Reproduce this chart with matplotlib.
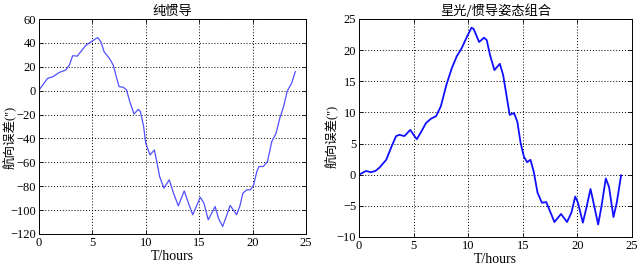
import matplotlib
matplotlib.use("Agg")
import matplotlib.pyplot as plt

# Left panel: pure INS heading error (")
t_ins = [0, 0.8, 1.3, 1.9, 2.5, 2.85, 3.15, 3.6, 3.9, 4.4, 4.9, 5.35, 5.5, 5.8, 6.1, 6.6,
         6.95, 7.2, 7.5, 7.9, 8.2, 8.5, 8.9, 9.3, 9.5, 9.8, 10.0, 10.4, 10.8, 11.0, 11.3,
         11.7, 12.2, 12.6, 13.05, 13.6, 14.0, 14.4, 15.1, 15.45, 15.85, 16.5, 16.8, 17.2,
         17.6, 17.9, 18.3, 18.5, 18.8, 19.1, 19.45, 19.8, 20.1, 20.4, 20.6, 21.0, 21.4,
         21.8, 22.2, 22.55, 22.9, 23.25, 23.65, 24.0]
v_ins = [0.5, 10.3, 11.7, 15.3, 17.3, 21.5, 29.3, 29.0, 32.6, 38.1, 41.0, 43.8, 44.4, 41.0,
         32.6, 27.0, 21.5, 13.1, 3.4, 2.9, 0.6, -9.1, -19.5, -15.6, -17.5, -30.0, -44.0,
         -53.8, -49.6, -57.9, -71.9, -81.6, -74.6, -85.8, -96.4, -83.9, -94.2, -103.9,
         -89.2, -94.2, -108.1, -97.0, -106.7, -113.7, -103.9, -96.1, -101.1, -103.9, -97.0,
         -85.8, -83.0, -83.0, -78.9, -67.7, -63.5, -63.5, -59.3, -42.6, -35.7, -23.1, -13.4,
         -0.3, 6.1, 16.0]

# Right panel: star sensor / INS attitude integration heading error (")
t_cns = [0, 0.64, 1.1, 1.5, 1.86, 2.5, 2.93, 3.4, 3.7, 4.16, 4.7, 5.0, 5.3, 5.7, 6.14, 6.6,
         7.06, 7.5, 8.0, 8.5, 8.95, 9.4, 9.9, 10.3, 10.5, 11.0, 11.45, 11.7, 12.0, 12.4,
         12.9, 13.2, 13.5, 13.8, 14.2, 14.5, 14.8, 15.1, 15.4, 15.7, 16.0, 16.35, 16.75,
         17.15, 17.45, 17.9, 18.5, 19.05, 19.45, 19.8, 20.05, 20.5, 20.85, 21.2, 21.55,
         21.9, 22.2, 22.6, 22.9, 23.3, 23.6, 24.0]
v_cns = [0.0, 0.6, 0.4, 0.6, 1.1, 2.4, 4.3, 6.2, 6.4, 6.2, 7.2, 6.4, 5.7, 6.9, 8.3, 9.0,
         9.4, 11.0, 14.4, 17.1, 19.0, 20.3, 22.2, 23.6, 23.4, 21.3, 22.0, 21.6, 19.2, 16.8,
         17.8, 16.0, 12.8, 9.6, 9.9, 8.5, 5.1, 2.9, 2.0, 2.4, 0.5, -2.9, -4.5, -4.4, -5.7,
         -7.6, -6.3, -7.6, -6.1, -3.5, -4.5, -7.7, -5.1, -2.3, -5.1, -8.0, -5.1, -0.6,
         -2.0, -6.8, -4.5, -0.1]

xticks = [0, 5, 10, 15, 20, 25]
yticks_left = [-120, -100, -80, -60, -40, -20, 0, 20, 40, 60]
yticks_right = [-10, -5, 0, 5, 10, 15, 20, 25]

title_left = "纯惯导"
title_right = "星光/惯导姿态组合"
ylabel = '航向误差(")'
xlabel = "T/hours"

serif = ["Liberation Serif", "Noto Sans CJK SC"]
cjk = ["Noto Sans CJK SC", "Liberation Serif"]

fig = plt.figure(figsize=(6.41, 2.67), dpi=100)
axL = fig.add_axes([0.0608, 0.1236, 0.4165, 0.805])
axR = fig.add_axes([0.560, 0.1124, 0.426, 0.8165])

def style(ax, yticks, ylim):
    ax.set_xlim(0, 25)
    ax.set_ylim(*ylim)
    ax.set_xticks(xticks)
    ax.set_yticks(yticks)
    ax.tick_params(direction="in", top=True, right=True, length=3, width=0.6, labelsize=9, pad=2)
    for lab in ax.get_xticklabels() + ax.get_yticklabels():
        lab.set_fontfamily(serif)
    ax.grid(True, linestyle=(0, (1, 2)), color="black", linewidth=0.7)
    for s in ax.spines.values():
        s.set_linewidth(0.7)
    ax.set_xlabel(xlabel, fontsize=10, family=serif, labelpad=1)
    ax.set_ylabel(ylabel, fontsize=9, family=serif)

axL.plot(t_ins, v_ins, color="#5050ff", linewidth=0.9)
style(axL, yticks_left, (-120, 60))
axL.set_title(title_left, fontsize=9.5, family=cjk, pad=3)
axL.yaxis.set_label_coords(-0.088, 0.45)

axR.plot(t_cns, v_cns, color="#1010ff", linewidth=1.3)
style(axR, yticks_right, (-10, 25))
axR.set_title(title_right, fontsize=9.5, family=cjk, pad=3)
axR.yaxis.set_label_coords(-0.077, 0.46)

fig.savefig("out.png", dpi=100)
